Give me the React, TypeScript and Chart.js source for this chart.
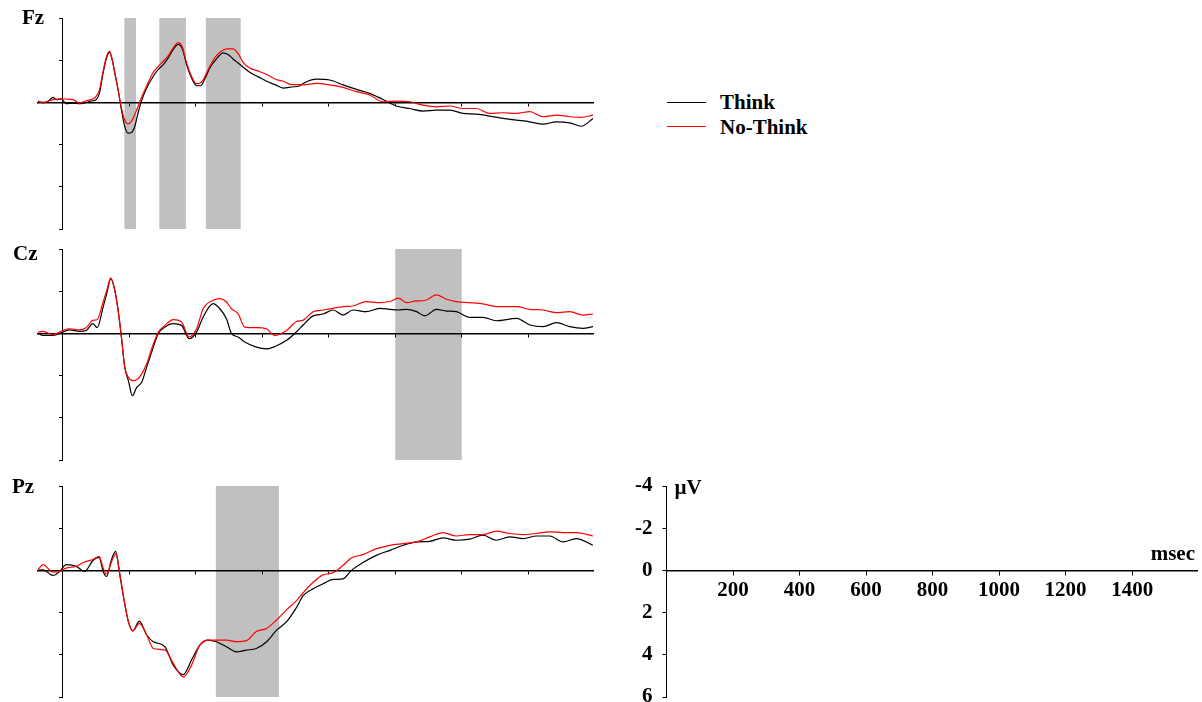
import React, { useEffect, useRef } from "react";
import { Chart, registerables } from "chart.js";

Chart.register(...registerables);

// ---------- data (time in ms, amplitude in µV; negative plotted up) ----------
const fzTime = [-75, -60, -45, -30, -20, -5, 10, 30, 50, 70, 90, 100, 110, 120, 130, 140, 148, 156, 166, 176, 186, 196, 206, 216, 226, 236, 252, 272, 287, 302, 317, 332, 347, 360, 372, 387, 402, 414, 427, 442, 462, 482, 497, 512, 527, 542, 562, 588, 613, 638, 663, 688, 713, 723, 763, 803, 843, 883, 923, 963, 1004, 1044, 1084, 1124, 1164, 1204, 1244, 1284, 1324, 1364, 1405, 1445, 1485, 1525, 1560, 1595];
const fzThink = [-0.05, 0, -0.05, -0.24, -0.13, -0.16, 0.06, 0.03, 0.06, 0, -0.08, -0.13, -0.44, -1.32, -2.03, -2.38, -2.03, -1.4, -0.6, 0.35, 1.14, 1.46, 1.43, 1.14, 0.51, -0.05, -0.68, -1.24, -1.56, -1.79, -2.11, -2.51, -2.75, -2.51, -1.79, -1.16, -0.79, -0.79, -1.11, -1.63, -2.06, -2.35, -2.27, -2.06, -1.87, -1.68, -1.43, -1.21, -1.0, -0.84, -0.68, -0.73, -0.79, -0.9, -1.1, -1.06, -0.83, -0.62, -0.43, -0.14, 0.17, 0.29, 0.41, 0.37, 0.37, 0.52, 0.56, 0.65, 0.76, 0.84, 0.92, 1.03, 0.92, 0.97, 1.13, 0.76];
const fzNoThink = [-0.08, 0.03, -0.05, -0.13, -0.15, -0.17, -0.16, -0.13, 0.03, -0.08, -0.16, -0.29, -0.6, -1.4, -2.11, -2.43, -2.06, -1.43, -0.6, 0.27, 0.83, 1.02, 0.9, 0.59, 0.19, -0.21, -0.79, -1.43, -1.71, -1.95, -2.22, -2.59, -2.83, -2.59, -1.87, -1.24, -0.89, -0.92, -1.21, -1.71, -2.22, -2.48, -2.54, -2.54, -2.32, -1.9, -1.63, -1.48, -1.32, -1.11, -1.0, -0.84, -0.84, -0.83, -0.9, -0.83, -0.71, -0.51, -0.35, -0.03, -0.06, -0.03, 0.13, 0.21, 0.17, 0.29, 0.29, 0.52, 0.49, 0.52, 0.44, 0.68, 0.6, 0.68, 0.71, 0.6];
const fzWindows = [[185, 220], [290, 370], [430, 535]];

const czTime = [-75, -60, -30, 0, 20, 50, 70, 90, 103, 121, 133, 144, 156, 166, 176, 186, 197, 209, 222, 237, 252, 267, 287, 307, 332, 357, 380, 402, 422, 452, 472, 492, 507, 527, 547, 582, 612, 638, 673, 703, 723, 753, 783, 813, 843, 873, 913, 953, 984, 1009, 1034, 1064, 1089, 1124, 1154, 1184, 1224, 1264, 1304, 1365, 1405, 1445, 1485, 1525, 1565, 1595];
const czThink = [0, 0.1, 0.1, -0.06, -0.17, -0.1, -0.14, -0.46, -0.27, -1.25, -1.97, -2.6, -2.05, -1.1, 0.17, 1.6, 2.24, 2.95, 2.56, 2.32, 1.6, 0.89, 0, -0.3, -0.46, -0.38, 0.25, -0.06, -0.78, -1.41, -1.17, -0.7, 0, 0.17, 0.41, 0.65, 0.73, 0.62, 0.33, -0.08, -0.4, -0.83, -0.92, -1.11, -0.87, -1.11, -1.03, -1.19, -1.14, -1.11, -1.14, -1.03, -0.83, -1.14, -1.06, -1.03, -0.76, -0.76, -0.6, -0.71, -0.4, -0.32, -0.51, -0.32, -0.24, -0.32];
const czNoThink = [-0.06, -0.1, 0.06, -0.14, -0.22, -0.17, -0.27, -0.62, -0.65, -1.49, -2.1, -2.63, -2.05, -1.1, 0.17, 1.6, 2.08, 2.24, 2.2, 1.92, 1.44, 0.73, -0.06, -0.38, -0.65, -0.54, 0.17, -0.22, -1.17, -1.57, -1.65, -1.49, -1.17, -0.94, -0.3, -0.27, -0.22, 0.1, -0.14, -0.56, -0.63, -1.03, -1.11, -1.19, -1.27, -1.3, -1.51, -1.46, -1.51, -1.67, -1.46, -1.54, -1.56, -1.83, -1.62, -1.51, -1.46, -1.4, -1.27, -1.27, -1.14, -1.11, -0.98, -1.03, -0.87, -0.92];
const czWindows = [[1000, 1200]];

const pzTime = [-75, -60, -30, -10, 10, 40, 65, 90, 109, 121, 131, 146, 159, 171, 183, 197, 210, 230, 252, 272, 307, 332, 362, 387, 412, 437, 462, 492, 522, 552, 582, 613, 643, 673, 703, 723, 753, 783, 813, 843, 868, 903, 943, 984, 1024, 1064, 1104, 1144, 1184, 1224, 1264, 1304, 1344, 1385, 1425, 1465, 1505, 1545, 1595];
const pzThink = [0, -0.03, 0.24, 0.05, -0.27, -0.19, 0.05, -0.46, -0.62, 0.05, 0.29, -0.51, -0.9, 0.2, 1.32, 2.43, 2.87, 2.4, 3.06, 3.38, 3.62, 4.49, 4.94, 4.25, 3.54, 3.3, 3.38, 3.62, 3.86, 3.78, 3.7, 3.38, 2.83, 2.43, 1.75, 1.19, 0.87, 0.63, 0.43, 0.4, 0, -0.37, -0.71, -0.95, -1.19, -1.35, -1.38, -1.54, -1.43, -1.48, -1.67, -1.43, -1.59, -1.51, -1.63, -1.63, -1.35, -1.51, -1.19];
const pzNoThink = [-0.03, -0.27, 0.08, 0.05, -0.11, -0.19, -0.4, -0.51, -0.67, -0.11, 0.17, -0.4, -0.78, 0.13, 1.32, 2.43, 2.87, 2.51, 3.06, 3.7, 3.78, 4.41, 5.05, 4.49, 3.54, 3.3, 3.3, 3.3, 3.38, 3.33, 2.9, 2.75, 2.35, 1.87, 1.43, 1.06, 0.56, 0.21, 0.11, -0.24, -0.59, -0.75, -1.03, -1.19, -1.27, -1.35, -1.59, -1.79, -1.63, -1.7, -1.7, -1.86, -1.75, -1.7, -1.75, -1.83, -1.79, -1.79, -1.63];
const pzWindows = [[460, 650]];

const timeTicks = [200, 400, 600, 800, 1000, 1200, 1400];
const voltTicks = [-4, -2, 0, 2, 4, 6];
const timeRange = [-75, 1595];
const scaleTimeRange = [0, 1595];
const voltRange = [-4, 6];

const seriesNames = ["Think", "No-Think"];
const seriesColors = ["#000000", "#ff0000"];

const SERIF = '"Liberation Serif", "Times New Roman", serif';

type PanelProps = {
  label: string;
  time: number[];
  think: number[];
  noThink: number[];
  windows: number[][];
  top: number;
  labelX: number;
  labelDy: number;
};

function Panel({ label, time, think, noThink, windows, top, labelX, labelDy }: PanelProps) {
  const ref = useRef<HTMLCanvasElement>(null);
  useEffect(() => {
    if (!ref.current) return;
    const deco = {
      id: "deco",
      beforeDraw(chart: any) {
        const { ctx, chartArea, scales } = chart;
        ctx.save();
        ctx.fillStyle = "#c0c0c0";
        for (const [a, b] of windows) {
          const x1 = scales.x.getPixelForValue(a);
          const x2 = scales.x.getPixelForValue(b);
          ctx.fillRect(x1, chartArea.top, x2 - x1, chartArea.bottom - chartArea.top);
        }
        ctx.restore();
      },
      afterDraw(chart: any) {
        const { ctx, chartArea } = chart;
        ctx.save();
        ctx.font = `bold 21px ${SERIF}`;
        ctx.fillStyle = "#000";
        ctx.textBaseline = "alphabetic";
        ctx.textAlign = "left";
        ctx.fillText(label, labelX, chartArea.top + labelDy);
        ctx.restore();
      },
    };
    const chart = new Chart(ref.current, {
      type: "line",
      data: {
        datasets: [
          {
            label: seriesNames[1],
            data: time.map((t, i) => ({ x: t, y: noThink[i] })),
            borderColor: seriesColors[1],
            borderWidth: 1.2,
            pointRadius: 0,
            cubicInterpolationMode: "monotone",
            order: 1,
          },
          {
            label: seriesNames[0],
            data: time.map((t, i) => ({ x: t, y: think[i] })),
            borderColor: seriesColors[0],
            borderWidth: 1.2,
            pointRadius: 0,
            cubicInterpolationMode: "monotone",
            order: 2,
          },
        ],
      },
      options: {
        responsive: false,
        animation: false,
        devicePixelRatio: 1,
        events: [],
        layout: { autoPadding: false, padding: { left: 38, right: 7, top: 18, bottom: 5 } },
        plugins: { legend: { display: false }, tooltip: { enabled: false } },
        scales: {
          x: {
            type: "linear",
            min: timeRange[0],
            max: timeRange[1],
            position: { y: 0 },
            border: { color: "#000", width: 1.5 },
            grid: { drawOnChartArea: false, color: "#000", tickLength: 3 },
            ticks: { display: false },
            afterBuildTicks: (s: any) => {
              s.ticks = timeTicks.map((v) => ({ value: v }));
            },
          },
          y: {
            type: "linear",
            reverse: true,
            min: voltRange[0],
            max: voltRange[1],
            position: { x: 0 },
            border: { color: "#000", width: 1 },
            grid: { drawOnChartArea: false, color: "#000", tickLength: 3 },
            ticks: { display: false },
            afterBuildTicks: (s: any) => {
              s.ticks = voltTicks.map((v) => ({ value: v }));
            },
          },
        },
      } as any,
      plugins: [deco],
    });
    return () => chart.destroy();
  }, []);
  return (
    <canvas
      ref={ref}
      width={600}
      height={234}
      style={{ position: "absolute", left: 0, top: top - 18, width: 600, height: 234 }}
    />
  );
}

function ScalePanel() {
  const ref = useRef<HTMLCanvasElement>(null);
  useEffect(() => {
    if (!ref.current) return;
    const font = { family: SERIF, size: 21, weight: "bold" as const };
    const titles = {
      id: "titles",
      afterDraw(chart: any) {
        const { ctx, chartArea, scales } = chart;
        ctx.save();
        ctx.font = `bold 21px ${SERIF}`;
        ctx.fillStyle = "#000";
        ctx.textBaseline = "middle";
        ctx.textAlign = "left";
        ctx.fillText("µV", chartArea.left + 8, chartArea.top + 3);
        ctx.textAlign = "right";
        ctx.fillText("msec", chartArea.right - 2, scales.y.getPixelForValue(0) - 16);
        ctx.restore();
      },
    };
    const chart = new Chart(ref.current, {
      type: "line",
      data: { datasets: [] },
      options: {
        responsive: false,
        animation: false,
        devicePixelRatio: 1,
        events: [],
        layout: { autoPadding: false, padding: { left: 0, right: 5, top: 18, bottom: 5 } },
        plugins: { legend: { display: false }, tooltip: { enabled: false } },
        scales: {
          x: {
            type: "linear",
            min: scaleTimeRange[0],
            max: scaleTimeRange[1],
            position: { y: 0 },
            border: { color: "#000", width: 1.5 },
            grid: { drawOnChartArea: false, color: "#000", tickLength: 4 },
            ticks: { color: "#000", font, padding: 4, maxRotation: 0, autoSkip: false, callback: (v: any) => String(v) },
            afterBuildTicks: (s: any) => {
              s.ticks = timeTicks.map((v) => ({ value: v }));
            },
            afterFit: (s: any) => {
              s.paddingLeft = 0;
              s.paddingRight = 0;
            },
          },
          y: {
            type: "linear",
            reverse: true,
            min: voltRange[0],
            max: voltRange[1],
            position: "left",
            border: { color: "#000", width: 1 },
            grid: { drawOnChartArea: false, color: "#000", tickLength: 4 },
            ticks: { color: "#000", font, padding: 10, autoSkip: false, callback: (v: any) => String(v) },
            afterBuildTicks: (s: any) => {
              s.ticks = voltTicks.map((v) => ({ value: v }));
            },
            afterFit: (s: any) => {
              s.width = 66.5;
              s.paddingTop = 0;
              s.paddingBottom = 0;
            },
          },
        },
      } as any,
      plugins: [titles],
    });
    return () => chart.destroy();
  }, []);
  return (
    <canvas
      ref={ref}
      width={602}
      height={234}
      style={{ position: "absolute", left: 600, top: 468, width: 602, height: 234 }}
    />
  );
}

function Legend() {
  const rows = [
    { lineTop: 102, textTop: 89 },
    { lineTop: 126, textTop: 114 },
  ];
  return (
    <>
      {seriesNames.map((name, i) => (
        <React.Fragment key={name}>
          <div
            style={{
              position: "absolute",
              left: 667,
              top: rows[i].lineTop,
              width: 39,
              height: 0,
              borderTop: `1px solid ${seriesColors[i]}`,
            }}
          />
          <div
            style={{
              position: "absolute",
              left: 720,
              top: rows[i].textTop,
              font: `bold 21px ${SERIF}`,
              lineHeight: "26px",
              color: "#000",
              whiteSpace: "nowrap",
            }}
          >
            {name}
          </div>
        </React.Fragment>
      ))}
    </>
  );
}

export default function App() {
  return (
    <div
      style={{
        position: "absolute",
        left: 0,
        top: 0,
        width: 1202,
        height: 702,
        overflow: "hidden",
        background: "#fff",
      }}
    >
      <Panel label="Fz" time={fzTime} think={fzThink} noThink={fzNoThink} windows={fzWindows} top={18} labelX={22} labelDy={6} />
      <Panel label="Cz" time={czTime} think={czThink} noThink={czNoThink} windows={czWindows} top={249} labelX={13} labelDy={11} />
      <Panel label="Pz" time={pzTime} think={pzThink} noThink={pzNoThink} windows={pzWindows} top={486} labelX={12} labelDy={7} />
      <ScalePanel />
      <Legend />
    </div>
  );
}
